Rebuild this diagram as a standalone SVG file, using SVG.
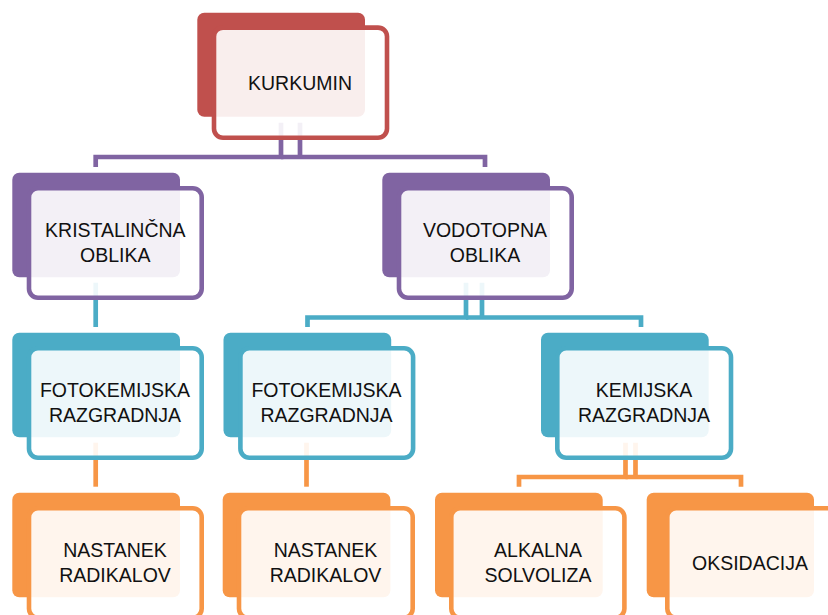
<svg xmlns="http://www.w3.org/2000/svg" width="828" height="615" viewBox="0 0 828 615">
<style>
.bg{fill:#ffffff}
.b{stroke:none}
.f{fill:#ffffff;fill-opacity:0.9;stroke-width:4.6}
.red .b{fill:#C0504D}.red .f{stroke:#C0504D}
.pur .b{fill:#8064A2}.pur .f{stroke:#8064A2}
.tea .b{fill:#4BACC6}.tea .f{stroke:#4BACC6}
.ora .b{fill:#F79646}.ora .f{stroke:#F79646}
.c{fill:none;stroke-width:4.7}
.cp{stroke:#8064A2}.ct{stroke:#4BACC6}.co{stroke:#F79646}
text{font-family:"Liberation Sans",Arial,sans-serif;font-size:19.5px;fill:#111;text-anchor:middle}
</style>
<rect class="bg" x="0" y="0" width="828" height="615"/>
<g id="connectors">
<path class="c cp" d="M281,122.7 V157 H95.7 V167"/>
<path class="c cp" d="M300,122.7 V157 M281,157 H485 V167"/>
<path class="c ct" d="M95.7,282.7 V327"/>
<path class="c ct" d="M466,282.7 V317.5 H307.5 V327"/>
<path class="c ct" d="M482,282.7 V317.5 M466,317.5 H641 V327"/>
<path class="c co" d="M95.7,442.7 V486.7"/>
<path class="c co" d="M306.5,442.7 V486.7"/>
<path class="c co" d="M625.5,442.7 V477 H519 V486.7"/>
<path class="c co" d="M635.5,442.7 V477 M625.5,477 H741 V486.7"/>
</g>
<g id="n-kurkumin" class="red">
<rect class="b" x="197.3" y="12.7" width="167.7" height="104" rx="7"/>
<rect class="f" x="214" y="27.6" width="173" height="110.1" rx="9"/>
<text x="300" y="90">KURKUMIN</text>
</g>
<g id="n-kristalincna" class="pur">
<rect class="b" x="12.3" y="172.7" width="167.7" height="104.6" rx="7"/>
<rect class="f" x="29" y="188.3" width="172.7" height="109.4" rx="9"/>
<text x="115.3" y="236.5">KRISTALINČNA</text>
<text x="115.3" y="262">OBLIKA</text>
</g>
<g id="n-vodotopna" class="pur">
<rect class="b" x="382.3" y="172.7" width="167.7" height="104.6" rx="7"/>
<rect class="f" x="399" y="188.3" width="172.7" height="109.4" rx="9"/>
<text x="485" y="236.5">VODOTOPNA</text>
<text x="485" y="262">OBLIKA</text>
</g>
<g id="n-foto1" class="tea">
<rect class="b" x="12.3" y="332.7" width="167.7" height="104.6" rx="7"/>
<rect class="f" x="29" y="348.3" width="172.7" height="109.4" rx="9"/>
<text x="115" y="396.5">FOTOKEMIJSKA</text>
<text x="115" y="422">RAZGRADNJA</text>
</g>
<g id="n-foto2" class="tea">
<rect class="b" x="223.5" y="332.7" width="167.7" height="104.6" rx="7"/>
<rect class="f" x="240.4" y="348.3" width="172.7" height="109.4" rx="9"/>
<text x="326.5" y="396.5">FOTOKEMIJSKA</text>
<text x="326.5" y="422">RAZGRADNJA</text>
</g>
<g id="n-kemijska" class="tea">
<rect class="b" x="541" y="332.7" width="167.7" height="104.6" rx="7"/>
<rect class="f" x="557.3" y="348.3" width="173.7" height="109.4" rx="9"/>
<text x="644" y="396.5">KEMIJSKA</text>
<text x="644" y="422">RAZGRADNJA</text>
</g>
<g id="n-radikali1" class="ora">
<rect class="b" x="12.3" y="492.7" width="167.7" height="104.6" rx="7"/>
<rect class="f" x="29" y="508.3" width="172.7" height="109.4" rx="9"/>
<text x="115" y="556.5">NASTANEK</text>
<text x="115" y="582">RADIKALOV</text>
</g>
<g id="n-radikali2" class="ora">
<rect class="b" x="222.7" y="492.7" width="167.7" height="104.6" rx="7"/>
<rect class="f" x="239" y="508.3" width="173.7" height="109.4" rx="9"/>
<text x="325.5" y="556.5">NASTANEK</text>
<text x="325.5" y="582">RADIKALOV</text>
</g>
<g id="n-alkalna" class="ora">
<rect class="b" x="435" y="492.7" width="167.7" height="104.6" rx="7"/>
<rect class="f" x="451.3" y="508.3" width="173.1" height="109.4" rx="9"/>
<text x="538" y="556.5">ALKALNA</text>
<text x="538" y="582">SOLVOLIZA</text>
</g>
<g id="n-oksidacija" class="ora">
<rect class="b" x="646.7" y="492.7" width="167.3" height="104.6" rx="7"/>
<rect class="f" x="667.3" y="508.3" width="173" height="109.4" rx="9"/>
<text x="750" y="570">OKSIDACIJA</text>
</g>
</svg>
